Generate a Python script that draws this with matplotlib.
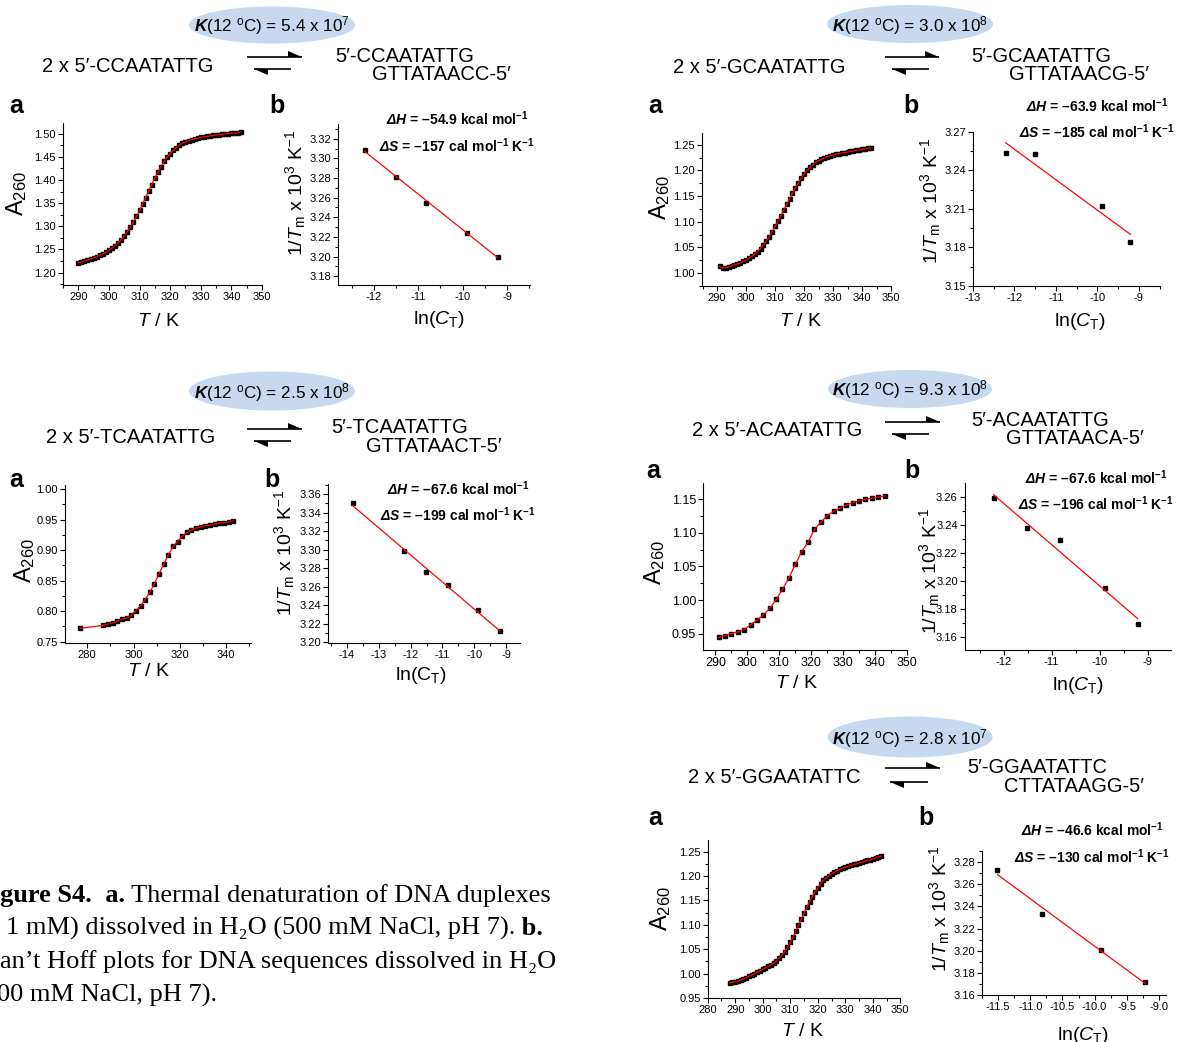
"""Figure S4: melting curves (a) and van't Hoff plots (b) for five 9-mer duplexes."""

import matplotlib

matplotlib.use("Agg")
import matplotlib.pyplot as plt  # noqa: E402
import numpy as np  # noqa: E402
from matplotlib.patches import Ellipse, Polygon  # noqa: E402
from matplotlib.ticker import FormatStrFormatter, MultipleLocator  # noqa: E402

W, H = 1182, 1042
SERIF = ["Liberation Serif", "DejaVu Serif"]

plt.rcParams.update({
    "font.family": ["Liberation Sans", "DejaVu Sans"],
    "mathtext.fontset": "custom",
    "mathtext.rm": "Liberation Sans",
    "mathtext.it": "Liberation Sans:italic",
    "mathtext.bf": "Liberation Sans:bold",
    "mathtext.bfit": "Liberation Sans:bold:italic",
    "axes.unicode_minus": False,
})

# ---- valores -----------------------------------------------------------
# 5'-CCAATATTG  (passo de 1 K)
t_cc = list(range(290, 344))
a_cc = [1.221, 1.223, 1.225, 1.227, 1.229, 1.232, 1.234, 1.237, 1.240, 1.244,
        1.248, 1.253, 1.258, 1.264, 1.271, 1.279, 1.288, 1.298, 1.309, 1.321,
        1.334, 1.348, 1.362, 1.376, 1.390, 1.404, 1.417, 1.429, 1.440, 1.449,
        1.457, 1.464, 1.470, 1.475, 1.479, 1.482, 1.485, 1.487, 1.489, 1.490,
        1.492, 1.493, 1.494, 1.495, 1.496, 1.497, 1.498, 1.499, 1.499, 1.500,
        1.501, 1.501, 1.502, 1.503]
lnc_cc = [-12.21, -11.51, -10.82, -9.90, -9.21]
itm_cc = [3.309, 3.281, 3.255, 3.224, 3.200]

# 5'-GCAATATTG
t_gc = list(range(291, 344))
a_gc = [1.013, 1.010, 1.011, 1.012, 1.014, 1.016, 1.018, 1.020, 1.023, 1.026,
        1.029, 1.033, 1.037, 1.042, 1.048, 1.055, 1.063, 1.071, 1.081, 1.091,
        1.101, 1.112, 1.123, 1.134, 1.145, 1.156, 1.166, 1.176, 1.185, 1.193,
        1.200, 1.206, 1.211, 1.216, 1.219, 1.222, 1.225, 1.227, 1.229, 1.230,
        1.232, 1.233, 1.234, 1.235, 1.236, 1.237, 1.238, 1.239, 1.240, 1.241,
        1.242, 1.243, 1.244]
lnc_gc = [-12.21, -11.51, -9.90, -9.21]
itm_gc = [3.254, 3.253, 3.2125, 3.184]

# 5'-TCAATATTG
t_tc = [277, 287, 289, 291, 293, 295, 297, 299, 301, 303, 305, 307, 309, 311,
        313, 315, 317, 319, 321, 323, 325, 327, 329, 331, 333, 335, 337, 339,
        341, 343]
a_tc = [0.772, 0.777, 0.779, 0.781, 0.784, 0.787, 0.789, 0.793, 0.801, 0.809,
        0.819, 0.831, 0.845, 0.861, 0.877, 0.892, 0.906, 0.914, 0.923, 0.929,
        0.933, 0.936, 0.938, 0.940, 0.941, 0.943, 0.944, 0.945, 0.946, 0.948]
lnc_tc = [-13.82, -12.21, -11.51, -10.82, -9.90, -9.21]
itm_tc = [3.350, 3.298, 3.276, 3.262, 3.235, 3.2115]

# 5'-ACAATATTG
t_ac = [291, 293, 295, 297, 299, 301, 303, 305, 307, 309, 311, 313, 315, 317,
        319, 321, 323, 325, 327, 329, 331, 333, 335, 337, 339, 341, 343]
a_ac = [0.9446, 0.9475, 0.9505, 0.953, 0.9564, 0.9638, 0.970, 0.978, 0.988,
        1.001, 1.016, 1.033, 1.053, 1.072, 1.086, 1.105, 1.116, 1.125, 1.132,
        1.137, 1.141, 1.145, 1.1475, 1.150, 1.1515, 1.153, 1.155]
lnc_ac = [-12.21, -11.51, -10.82, -9.90, -9.21]
itm_ac = [3.259, 3.2377, 3.229, 3.1945, 3.1688]

# 5'-GGAATATTC
t_gg = list(range(288, 344))
a_gg = [0.981, 0.982, 0.983, 0.985, 0.987, 0.989, 0.992, 0.995, 0.997, 1.000,
        1.003, 1.006, 1.009, 1.012, 1.015, 1.018, 1.022, 1.026, 1.032, 1.038,
        1.045, 1.054, 1.064, 1.075, 1.087, 1.099, 1.112, 1.124, 1.136, 1.147,
        1.158, 1.167, 1.176, 1.184, 1.191, 1.196, 1.201, 1.205, 1.208, 1.211,
        1.214, 1.216, 1.218, 1.220, 1.222, 1.224, 1.225, 1.227, 1.228, 1.230,
        1.232, 1.233, 1.235, 1.237, 1.239, 1.241]
lnc_gg = [-11.51, -10.82, -9.90, -9.21]
itm_gg = [3.2728, 3.233, 3.2007, 3.1715]

# ---- layout (pixels, origem no canto superior esquerdo) ------------------
PANELS = [
    dict(k="5.4 x 10$^{7}$", seq="CCAATATTG", top="5′-CCAATATTG", bot="GTTATAACC-5′",
         t=t_cc, a=a_cc, lnc=lnc_cc, itm=itm_cc, dh="–54.9", ds="–157", ct_it=True,
         ell=(272, 25, 166, 37), kbase=31.7, reac=(42, 71.7),
         arrows=(247, 302, 57, 254, 291, 69), prod=(335, 62.5, 372, 80.5),
         lbl=(9, 269, 113), tick_a=8,
         ax_a=(63, 123, 262, 285), xa=(285, 350, 10, 5, "%d"),
         ya=(1.173, 1.523, .05, .025, "%.2f"),
         ax_b=(338, 124, 530, 285), xb=(-12.81, -8.48, 1, .5, "%d"),
         yb=(3.171, 3.335, .02, .01, "%.2f"),
         dhs=(457, 125, 151.7), lab_a=(16.6, 194, 158, 321), lab_b=(296, 193, 439, 319)),
    dict(k="3.0 x 10$^{8}$", seq="GCAATATTG", top="5′-GCAATATTG", bot="GTTATAACG-5′",
         t=t_gc, a=a_gc, lnc=lnc_gc, itm=itm_gc, dh="–63.9", ds="–185", ct_it=True,
         ell=(910, 24, 166, 38), kbase=31.7, reac=(673, 72.7),
         arrows=(885, 939, 57, 892, 929, 69), prod=(971, 62, 1009, 80.5),
         lbl=(648, 903, 113), tick_a=8,
         ax_a=(702, 133, 891, 286), xa=(284.8, 350, 10, 5, "%d"),
         ya=(0.975, 1.273, .05, .025, "%.2f"),
         ax_b=(973, 132, 1160, 286), xb=(-13, -8.49, 1, .5, "%d"),
         yb=(3.15, 3.27, .03, .015, "%.2f"),
         dhs=(1097, 111.7, 137.7), lab_a=(660, 198, 800, 321), lab_b=(931, 201, 1080, 322)),
    dict(k="2.5 x 10$^{8}$", seq="TCAATATTG", top="5′-TCAATATTG", bot="GTTATAACT-5′",
         t=t_tc, a=a_tc, lnc=lnc_tc, itm=itm_tc, dh="–67.6", ds="–199", ct_it=False,
         ell=(272, 391, 166, 39), kbase=398.3, reac=(46.5, 443.3),
         arrows=(247, 302, 429, 254, 291, 441), prod=(331, 433, 366, 451.5),
         lbl=(9, 264, 487), tick_a=8,
         ax_a=(65, 485, 251, 643), xa=(270.4, 350.7, 20, 10, "%d"),
         ya=(0.748, 1.0065, .05, .025, "%.2f"),
         ax_b=(328, 484, 520, 643), xb=(-14.59, -8.57, 1, .5, "%d"),
         yb=(3.199, 3.371, .02, .01, "%.2f"),
         dhs=(458, 495, 521), lab_a=(24.6, 561, 148, 672), lab_b=(285, 553, 421, 675)),
    dict(k="9.3 x 10$^{8}$", seq="ACAATATTG", top="5′-ACAATATTG", bot="GTTATAACA-5′",
         t=t_ac, a=a_ac, lnc=lnc_ac, itm=itm_ac, dh="–67.6", ds="–196", ct_it=True,
         ell=(910, 389, 164, 38), kbase=395, reac=(692.5, 436),
         arrows=(885, 940, 422, 892, 929, 434), prod=(971, 426, 1006, 444.5),
         lbl=(646.5, 904.6, 478), tick_a=9,
         ax_a=(703, 483, 907, 650), xa=(286.1, 350, 10, 5, "%d"),
         ya=(0.926, 1.174, .05, .025, "%.2f"),
         ax_b=(964.7, 483, 1170.8, 650), xb=(-12.81, -8.52, 1, .5, "%d"),
         yb=(3.1505, 3.2698, .02, .01, "%.2f"),
         dhs=(1096, 484.3, 510), lab_a=(655, 563, 796, 684), lab_b=(930, 571, 1078, 685)),
    dict(k="2.8 x 10$^{7}$", seq="GGAATATTC", top="5′-GGAATATTC", bot="CTTATAAGG-5′",
         t=t_gg, a=a_gg, lnc=lnc_gg, itm=itm_gg, dh="–46.6", ds="–130", ct_it=True,
         ell=(910, 737, 165, 41), kbase=744.3, reac=(688, 783.3),
         arrows=(885, 940, 768, 890, 927.5, 782), prod=(967, 773, 1004, 792),
         lbl=(648, 918, 825), tick_a=8,
         ax_a=(707.7, 840, 900.3, 998), xa=(280, 350, 10, 5, "%d"),
         ya=(0.95, 1.274, .05, .025, "%.2f"),
         ax_b=(982, 851, 1166, 995), xb=(-11.75, -8.89, .5, .25, "%.1f"),
         yb=(3.16, 3.29, .02, .01, "%.2f"),
         dhs=(1092, 835.7, 862.7), lab_a=(660.6, 909, 802, 1032), lab_b=(940, 909, 1083, 1035)),
]

fig = plt.figure(figsize=(W / 100, H / 100), dpi=100)
# eixo "de papel" em pixels para cabeçalhos, setas, legenda
ov = fig.add_axes([0, 0, 1, 1])
ov.set_xlim(0, W)
ov.set_ylim(H, 0)
ov.axis("off")
ov.set_zorder(10)


def make_axes(box, xspec, yspec, labelsize=8):
    l, t, r, b = box
    ax = fig.add_axes([l / W, 1 - b / H, (r - l) / W, (b - t) / H])
    ax.set_facecolor("none")
    for s in ("top", "right"):
        ax.spines[s].set_visible(False)
    for s in ("left", "bottom"):
        ax.spines[s].set_linewidth(0.8)
    for axis, (v0, v1, maj, mnr, fmt) in ((ax.xaxis, xspec), (ax.yaxis, yspec)):
        axis.set_major_locator(MultipleLocator(maj))
        axis.set_minor_locator(MultipleLocator(mnr))
        axis.set_major_formatter(FormatStrFormatter(fmt))
    ax.set_xlim(xspec[0], xspec[1])
    ax.set_ylim(yspec[0], yspec[1])
    ax.tick_params(which="both", direction="out", width=0.8, labelsize=labelsize, pad=1.5)
    ax.tick_params(which="major", length=3.5)
    ax.tick_params(which="minor", length=2)
    return ax


def harpoons(x0, x1, y, bx0, bx1, yb):
    # seta de ida: farpa em cima, à direita; volta: farpa embaixo, à esquerda
    right, left = max(x0, x1), min(bx0, bx1)
    ov.plot([x0, x1], [y, y], color="black", lw=1.2, solid_capstyle="butt")
    ov.add_patch(Polygon([(right, y), (right - 14, y - 6), (right - 14, y)],
                         closed=True, color="black", lw=0))
    ov.plot([bx0, bx1], [yb, yb], color="black", lw=1.2, solid_capstyle="butt")
    ov.add_patch(Polygon([(left, yb), (left + 14, yb + 6), (left + 14, yb)],
                         closed=True, color="black", lw=0))


for p in PANELS:
    cx, cy, ew, eh = p["ell"]
    ov.add_patch(Ellipse((cx, cy), ew, eh, facecolor="#c6d9f0", edgecolor="none"))
    ov.text(cx, p["kbase"], r"$\mathbfit{K}$(12 $^{\mathrm{o}}$C) = " + p["k"],
            fontsize=12.3, ha="center", va="baseline")
    ov.text(p["reac"][0], p["reac"][1], "2 x 5′-" + p["seq"], fontsize=14.5, va="baseline")
    harpoons(*p["arrows"])
    px1, py1, px2, py2 = p["prod"]
    ov.text(px1, py1, p["top"], fontsize=14.5, va="baseline")
    ov.text(px2, py2, p["bot"], fontsize=14.5, va="baseline")
    ov.text(p["lbl"][0], p["lbl"][2], "a", fontsize=18, fontweight="bold", va="baseline")
    ov.text(p["lbl"][1], p["lbl"][2], "b", fontsize=18, fontweight="bold", va="baseline")

    # (a) curva de desnaturação
    ax = make_axes(p["ax_a"], p["xa"], p["ya"], labelsize=p["tick_a"])
    ax.plot(p["t"], p["a"], "s", color="black", ms=3, zorder=2)
    ax.plot(p["t"], p["a"], "-", color="red", lw=0.9, zorder=3)
    ax.set_xlabel(r"$T$ / K", fontsize=14, va="center", ha="center")
    ax.set_ylabel(r"A$_{260}$", fontsize=17, va="center", ha="center")
    ax.xaxis.set_label_coords(p["lab_a"][2], p["lab_a"][3], transform=ov.transData)
    ax.yaxis.set_label_coords(p["lab_a"][0], p["lab_a"][1], transform=ov.transData)

    # (b) van't Hoff
    bx = make_axes(p["ax_b"], p["xb"], p["yb"])
    lnc = np.asarray(p["lnc"])
    itm = np.asarray(p["itm"])
    coef = np.polyfit(lnc, itm, 1)
    xs = np.array([lnc.min(), lnc.max()])
    bx.plot(lnc, itm, "s", color="black", ms=2.8, zorder=2)
    bx.plot(xs, np.polyval(coef, xs), "-", color="red", lw=0.9, zorder=3)
    ct = r"ln($C_\mathrm{T}$)" if p["ct_it"] else r"ln(C$_\mathrm{T}$)"
    bx.set_xlabel(ct, fontsize=14, va="center", ha="center")
    bx.set_ylabel(r"1/$T_\mathrm{m}$ x 10$^{3}$ K$^{-1}$", fontsize=14,
                  va="center", ha="center")
    bx.xaxis.set_label_coords(p["lab_b"][2], p["lab_b"][3], transform=ov.transData)
    bx.yaxis.set_label_coords(p["lab_b"][0], p["lab_b"][1], transform=ov.transData)

    hx, hy, sy = p["dhs"]
    ov.text(hx, hy, r"$\mathbfit{ΔH}$ = " + p["dh"] + r" kcal mol$^{\mathbf{-1}}$",
            fontsize=10, fontweight="bold", ha="center", va="baseline")
    ov.text(hx, sy, r"$\mathbfit{ΔS}$ = " + p["ds"]
            + r" cal mol$^{\mathbf{-1}}$ K$^{\mathbf{-1}}$",
            fontsize=10, fontweight="bold", ha="center", va="baseline")


def rich_line(x, y, parts, size=19):
    renderer = fig.canvas.get_renderer()
    for s, weight in parts:
        t = ov.text(x, y, s, fontsize=size, fontweight=weight, family=SERIF,
                    va="baseline", ha="left")
        x += t.get_window_extent(renderer).width


rich_line(0, 902, [("gure S4.", "bold"), ("  a.", "bold"),
                   (" Thermal denaturation of DNA duplexes", "normal")])
rich_line(6, 935, [("1 mM) dissolved in H₂O (500 mM NaCl, pH 7).", "normal"),
                   (" b.", "bold")])
rich_line(0, 968, [("an’t Hoff plots for DNA sequences dissolved in H₂O", "normal")])
rich_line(-3, 1002, [("00 mM NaCl, pH 7).", "normal")])

fig.savefig("out.png", dpi=100)
